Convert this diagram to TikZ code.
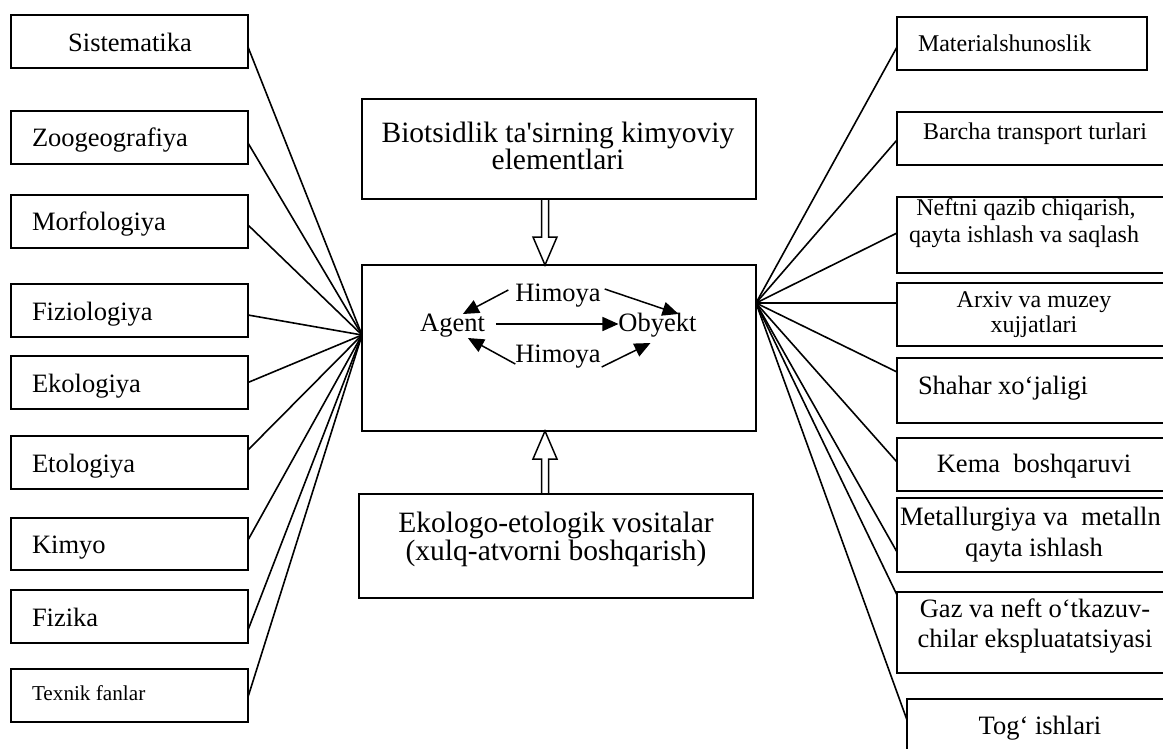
\documentclass[tikz,border=0pt]{standalone}
\usepackage{fontspec}
\setmainfont{Liberation Serif}[Ligatures=TeXOff]
\usetikzlibrary{arrows.meta,calc}

\begin{document}
\begin{tikzpicture}[x=1pt,y=-1pt,
  every node/.style={inner sep=0pt, outer sep=0pt},
  box/.style={draw, line width=1.6pt, rectangle, anchor=north west},
  lbox/.style={box, minimum width=237pt, minimum height=53pt},
  big/.style={font=\fontsize{26.5}{30}\selectfont},
  med/.style={font=\fontsize{24}{27}\selectfont},
  sml/.style={font=\fontsize{21.2}{24}\selectfont},
  huge/.style={font=\fontsize{29.5}{32}\selectfont},
  spoke/.style={line width=1.6pt},
  tri/.style={line width=1.5pt, -{Triangle[length=16pt,width=14pt]}},
  hollow/.style={line width=1.5pt, line join=miter}]

\clip (0,0) rectangle (1163,749);

% left column of disciplines
\node[lbox] (sis) at (11,15)  {};
\node[lbox] (zoo) at (11,111) {};
\node[lbox] (mor) at (11,195) {};
\node[lbox] (fiz) at (11,284) {};
\node[lbox] (eko) at (11,356) {};
\node[lbox] (eto) at (11,436) {};
\node[lbox, minimum height=52pt] (kim) at (11,518) {};
\node[lbox] (fzk) at (11,590) {};
\node[lbox] (tex) at (11,669) {};

\node[big, anchor=base]      (sis-t) at (130,52)  {Sistematika};
\node[big, anchor=base west] (zoo-t) at (32,147)  {Zoogeografiya};
\node[big, anchor=base west] (mor-t) at (32,230)  {Morfologiya};
\node[big, anchor=base west] (fiz-t) at (32,320)  {Fiziologiya};
\node[big, anchor=base west] (eko-t) at (32,392)  {Ekologiya};
\node[big, anchor=base west] (eto-t) at (32,472)  {Etologiya};
\node[big, anchor=base west] (kim-t) at (32,553)  {Kimyo};
\node[big, anchor=base west] (fzk-t) at (32,626)  {Fizika};
\node[sml, anchor=base west] (tex-t) at (32,700)  {Texnik fanlar};

% right column of application fields
\node[box, minimum width=250pt, minimum height=53pt] (mat) at (897,17)  {};
\node[box, minimum width=274pt, minimum height=53pt] (bar) at (897,112) {};
\node[box, minimum width=274pt, minimum height=76pt] (nef) at (897,197) {};
\node[box, minimum width=274pt, minimum height=63pt] (arx) at (897,283) {};
\node[box, minimum width=274pt, minimum height=65pt] (sha) at (897,358) {};
\node[box, minimum width=274pt, minimum height=53pt] (kem) at (897,438) {};
\node[box, minimum width=274pt, minimum height=74pt] (met) at (897,498) {};
\node[box, minimum width=274pt, minimum height=81pt] (gaz) at (897,592) {};
\node[box, minimum width=268pt, minimum height=80pt] (tog) at (907,699) {};

\node[med, anchor=base west] (mat-t)  at (918,52)   {Materialshunoslik};
\node[med, anchor=base]      (bar-t)  at (1035,140) {Barcha transport turlari};
\node[med, anchor=base]      (nef-t1) at (1026,215) {Neftni qazib chiqarish,};
\node[med, anchor=base]      (nef-t2) at (1024,242) {qayta ishlash va saqlash};
\node[med, anchor=base]      (arx-t1) at (1034,307) {Arxiv va muzey};
\node[med, anchor=base]      (arx-t2) at (1034,332) {xujjatlari};
\node[big, anchor=base west] (sha-t)  at (918,394)  {Shahar xo‘jaligi};
\node[big, anchor=base]      (kem-t)  at (1034,472) {Kema\ \ boshqaruvi};
\node[big, anchor=base west] (met-t1) at (900,525)  {Metallurgiya va\ \ metalln};
\node[big, anchor=base]      (met-t2) at (1034,556) {qayta ishlash};
\node[big, anchor=base]      (gaz-t1) at (1035,617) {Gaz va neft o‘tkazuv-};
\node[big, anchor=base]      (gaz-t2) at (1035,647) {chilar ekspluatatsiyasi};
\node[big, anchor=base]      (tog-t)  at (1040,734) {Tog‘ ishlari};

% central column
\node[box, minimum width=394pt, minimum height=100pt] (bio) at (362,99)  {};
\node[box, minimum width=394pt, minimum height=166pt] (mid) at (362,265) {};
\node[box, minimum width=394pt, minimum height=104pt] (eco) at (359,494) {};

\node[huge, anchor=base] (bio-t1) at (558,143) {Biotsidlik ta'sirning kimyoviy};
\node[huge, anchor=base] (bio-t2) at (558,170) {elementlari};
\node[huge, anchor=base] (eco-t1) at (556,532) {Ekologo-etologik vositalar};
\node[huge, anchor=base] (eco-t2) at (556,560) {(xulq-atvorni boshqarish)};

\node[big, anchor=base] (ag) at (452.5,331) {Agent};
\node[big, anchor=base] (ob) at (657.5,331) {Obyekt};
\node[big, anchor=base] (h1) at (558,301)   {Himoya};
\node[big, anchor=base] (h2) at (558,362)   {Himoya};

% arrows inside the central box
\draw[tri] ([shift={(11pt,7pt)}]ag.base east) -- ([yshift=7pt]ob.base west);
\draw[tri] ([shift={(-7pt,11pt)}]h1.base west) -- ([shift={(-22pt,17pt)}]ag.base east);
\draw[tri] ([shift={(4pt,12pt)}]h1.base east) -- ([shift={(60pt,17pt)}]ob.base west);
\draw[tri] ([shift={(0pt,-2pt)}]h2.base west) -- ([shift={(-17pt,-7pt)}]ag.base east);
\draw[tri] ([shift={(1pt,-5pt)}]h2.base east) -- ([shift={(32pt,-12pt)}]ob.base west);

% hollow block arrows into the central box
\coordinate (ua) at ([xshift=-14pt]bio.south);
\coordinate (ub) at ([xshift=-14pt]mid.north);
\draw[hollow] ([xshift=-3.5pt]ua) -- ([shift={(-3.5pt,28pt)}]ub) -- ([shift={(-12pt,28pt)}]ub)
  -- (ub) -- ([shift={(12pt,28pt)}]ub) -- ([shift={(3.5pt,28pt)}]ub) -- ([xshift=3.5pt]ua);
\coordinate (da) at ([xshift=-11pt]eco.north);
\coordinate (db) at ([xshift=-14pt]mid.south);
\draw[hollow] ([xshift=-3.5pt]da) -- ([shift={(-3.5pt,-28pt)}]db) -- ([shift={(-12pt,-28pt)}]db)
  -- (db) -- ([shift={(12pt,-28pt)}]db) -- ([shift={(3.5pt,-28pt)}]db) -- ([xshift=3.5pt]da);

% fan of links on both sides
\coordinate (lc) at ([yshift=13pt]mid.west);
\coordinate (rc) at ([yshift=45pt]mid.east);
\draw[spoke] ([yshift=-5.5pt]sis.east) -- (lc);
\draw[spoke] ([yshift=-5.5pt]zoo.east) -- (lc);
\draw[spoke] ([yshift=-3.5pt]mor.east) -- (lc);
\draw[spoke] ([yshift=-4.5pt]fiz.east) -- (lc);
\draw[spoke] (eko.east) -- (lc);
\draw[spoke] ([yshift=12.5pt]eto.east) -- (lc);
\draw[spoke] ([yshift=4pt]kim.east) -- (lc);
\draw[spoke] ([yshift=-13.5pt]fzk.east) -- (lc);
\draw[spoke] ([yshift=-1.5pt]tex.east) -- (lc);

\draw[spoke] ([yshift=-3.5pt]mat.west) -- (rc);
\draw[spoke] ([yshift=-1.5pt]bar.west) -- (rc);
\draw[spoke] ([yshift=2pt]nef.west) -- (rc);
\draw[spoke] ([yshift=11.5pt]arx.west) -- (rc);
\draw[spoke] ([yshift=18.5pt]sha.west) -- (rc);
\draw[spoke] ([yshift=2.5pt]kem.west) -- (rc);
\draw[spoke] ([yshift=-17pt]met.west) -- (rc);
\draw[spoke] ([yshift=37.5pt]gaz.west) -- (rc);
\draw[spoke] ([yshift=19pt]tog.west) -- (rc);
\end{tikzpicture}
\end{document}
